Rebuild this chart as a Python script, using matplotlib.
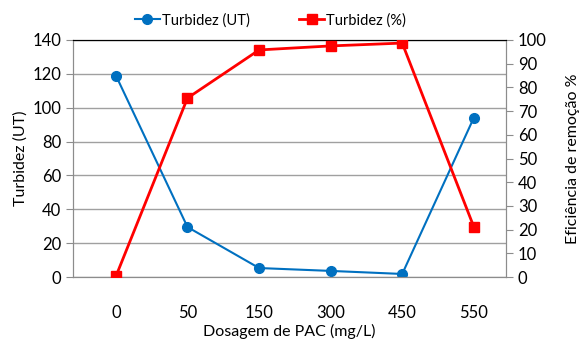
import matplotlib
matplotlib.use("Agg")
import matplotlib.pyplot as plt

# dados
dosagens = ["0", "50", "150", "300", "450", "550"]
turbidez_ut = [119, 29.5, 5.3, 3.6, 1.8, 94]
remocao_pct = [0.3, 75.5, 95.8, 97.5, 98.7, 21.2]

plt.rcParams["font.family"] = ["Lato", "DejaVu Sans"]

fig = plt.figure(figsize=(5.82, 3.43), dpi=100)
ax = fig.add_axes([0.1254, 0.1924, 0.744, 0.6910])
ax2 = ax.twinx()

x = range(len(dosagens))
l1, = ax.plot(x, turbidez_ut, color="#0070C0", lw=1.5, marker="o", ms=7,
              label="Turbidez (UT)", zorder=3)
l2, = ax2.plot(x, remocao_pct, color="#FF0000", lw=2, marker="s", ms=7,
               label="Turbidez (%)", zorder=3)

ax.set_xlim(-0.6, 5.45)
ax.set_ylim(0, 140)
ax.set_yticks(range(0, 141, 20))
ax2.set_ylim(0, 100)
ax2.set_yticks(range(0, 101, 10))
ax.set_xticks(list(x))
ax.set_xticklabels(dosagens)

ax.grid(axis="y", color="#A0A0A0", lw=1)
ax.set_axisbelow(True)
for a in (ax, ax2):
    for s in ("left", "right", "bottom"):
        a.spines[s].set_color("#8C8C8C")
    a.spines["top"].set_color("black")
    a.tick_params(labelsize=12, colors="#8C8C8C", labelcolor="black", length=5)
ax.tick_params(axis="x", length=0, pad=20)

ax.set_xlabel("Dosagem de PAC (mg/L)", fontsize=11.5, labelpad=2)
ax.set_ylabel("Turbidez (UT)", fontsize=11.5, labelpad=3)
ax2.set_ylabel("Eficiência de remoção %", fontsize=11.5, labelpad=14)

fig.legend(handles=[l1, l2], loc="upper center", bbox_to_anchor=(0.465, 1.0),
           ncol=2, frameon=False, fontsize=10.5, handlelength=1.7,
           columnspacing=3.4, handletextpad=0.15)

fig.savefig("out.png", dpi=100)
